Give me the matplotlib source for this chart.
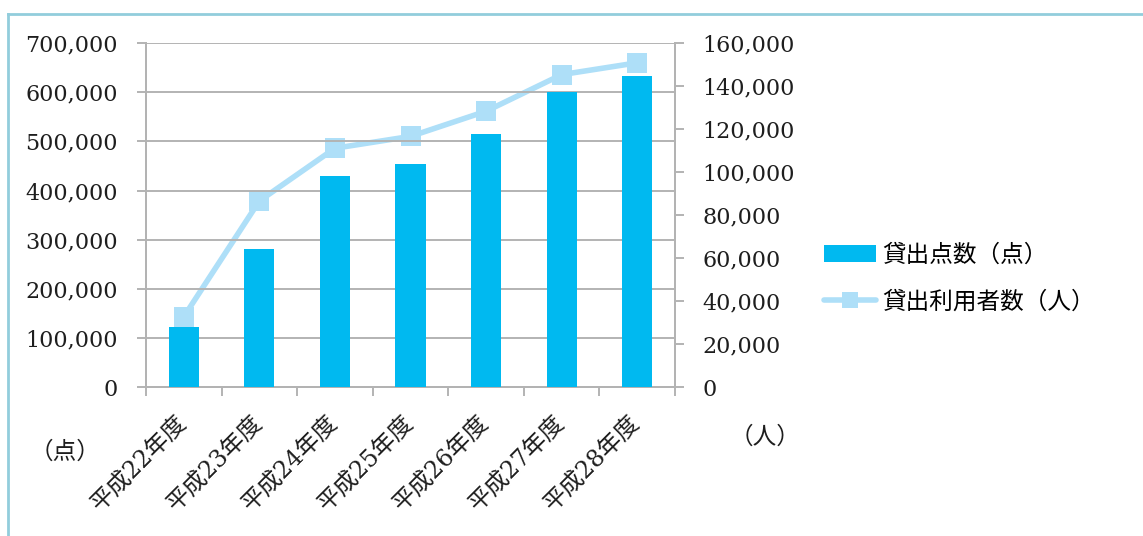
import matplotlib
matplotlib.use('Agg')
import matplotlib.pyplot as plt
from matplotlib.lines import Line2D
from matplotlib.ticker import FuncFormatter, MultipleLocator
from matplotlib.font_manager import FontProperties

# data
years = ['平成22年度', '平成23年度', '平成24年度', '平成25年度',
         '平成26年度', '平成27年度', '平成28年度']
loan_items = [122000, 281000, 429000, 453000, 514000, 600000, 632000]   # 貸出点数（点）
loan_users = [32800, 86600, 111100, 116600, 128300, 145300, 150800]     # 貸出利用者数（人）

bar_color = '#00B9F0'
line_color = '#AEDFF8'
grid_color = '#B3B3B3'
frame_color = '#92CDDC'

num_font = FontProperties(family='DejaVu Serif', size=16)
jp_font = FontProperties(family=['DejaVu Serif', 'Noto Sans CJK JP'], size=17)

fig = plt.figure(figsize=(11.43, 5.36), dpi=100)
ax = fig.add_axes([146 / 1143, 1 - 387.3 / 536, (675 - 146) / 1143, (387.3 - 43) / 536])
ax2 = ax.twinx()

# bars must sit above the line, so the primary axes goes on top
ax.set_zorder(2)
ax.patch.set_visible(False)
ax2.set_zorder(1)

x = list(range(len(years)))
bars = ax.bar(x, loan_items, width=0.4, color=bar_color, zorder=3)
line, = ax2.plot(x, loan_users, color=line_color, lw=4, marker='s',
                 markersize=14, markeredgewidth=0, solid_capstyle='round')

fmt = FuncFormatter(lambda v, p: '{:,.0f}'.format(v))

ax.set_xlim(-0.5, len(years) - 0.5)
ax.set_ylim(0, 700000)
ax.yaxis.set_major_locator(MultipleLocator(100000))
ax.yaxis.set_major_formatter(fmt)
ax2.set_ylim(0, 160000)
ax2.yaxis.set_major_locator(MultipleLocator(20000))
ax2.yaxis.set_major_formatter(fmt)

ax.yaxis.grid(True, color=grid_color, lw=1.4)
ax.set_axisbelow(True)

for a in (ax, ax2):
    for s in a.spines.values():
        s.set_color(grid_color)
        s.set_linewidth(1.4)
    a.spines['top'].set_visible(False)

ax.tick_params(axis='y', length=6.5, width=1.4, color=grid_color, pad=13.7)
ax2.tick_params(axis='y', length=6.5, width=1.4, color=grid_color, pad=13)
for lab in ax.get_yticklabels() + ax2.get_yticklabels():
    lab.set_fontproperties(num_font)
    lab.set_color('#1e1e1e')

# category boundaries carry the tick marks, centres carry the labels
ax.set_xticks([i - 0.5 for i in range(len(years) + 1)])
ax.set_xticklabels([])
ax.set_xticks(x, years, minor=True)
ax.tick_params(axis='x', which='major', length=6.5, width=1.4, color=grid_color)
ax.tick_params(axis='x', which='minor', length=0, pad=23)
for lab in ax.get_xticklabels(minor=True):
    lab.set_fontproperties(jp_font)
    lab.set_rotation(45)
    lab.set_ha('right')
    lab.set_va('center')
    lab.set_rotation_mode('anchor')
    lab.set_color('#1e1e1e')

fig.text(65 / 1143, 1 - 452 / 536, '（点）', fontproperties=jp_font,
         ha='center', va='center', color='#1e1e1e')
fig.text(765 / 1143, 1 - 437 / 536, '（人）', fontproperties=jp_font,
         ha='center', va='center', color='#1e1e1e')

fig.legend([bars, line], ['貸出点数（点）', '貸出利用者数（人）'],
           loc='center left', bbox_to_anchor=(824 / 1143, 1 - 278.5 / 536),
           frameon=False, borderpad=0, borderaxespad=0, handlelength=2.2,
           handletextpad=0.25, labelspacing=1.0, markerscale=0.8, prop=jp_font)

# thin outer frame (top and left edges only)
fig.add_artist(Line2D([7.5 / 1143, 7.5 / 1143], [0, 1 - 13.5 / 536],
                      transform=fig.transFigure, color=frame_color, lw=2))
fig.add_artist(Line2D([7.5 / 1143, 1], [1 - 13.5 / 536, 1 - 13.5 / 536],
                      transform=fig.transFigure, color=frame_color, lw=2))

fig.savefig('out.png', dpi=100)
